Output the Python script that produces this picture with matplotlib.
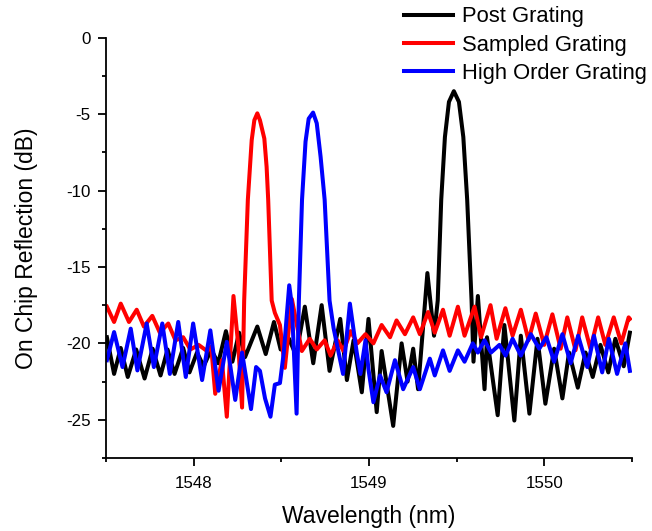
import matplotlib
matplotlib.use('Agg')
import matplotlib.pyplot as plt
from matplotlib.ticker import MultipleLocator

plt.rcParams['font.family'] = ['Liberation Sans', 'DejaVu Sans']
plt.rcParams['axes.unicode_minus'] = False

# Post Grating (black)
post_wl = [1547.505, 1547.546, 1547.584, 1547.624, 1547.672, 1547.720, 1547.766, 1547.811,
           1547.851, 1547.891, 1547.940, 1547.976, 1548.019, 1548.057, 1548.100, 1548.140,
           1548.184, 1548.221, 1548.259, 1548.293, 1548.363, 1548.411, 1548.458, 1548.496,
           1548.544, 1548.584, 1548.634, 1548.682, 1548.730, 1548.775, 1548.836, 1548.874,
           1548.912, 1548.959, 1548.997, 1549.044, 1549.072, 1549.138, 1549.186, 1549.220,
           1549.252, 1549.280, 1549.333, 1549.371, 1549.392, 1549.412, 1549.433, 1549.456,
           1549.484, 1549.513, 1549.538, 1549.560, 1549.585, 1549.596, 1549.621, 1549.659,
           1549.673, 1549.734, 1549.772, 1549.829, 1549.866, 1549.915, 1549.961, 1550.006,
           1550.056, 1550.103, 1550.141, 1550.191, 1550.235, 1550.276, 1550.320, 1550.365,
           1550.405, 1550.453, 1550.488]
post_db = [-19.6, -22.0, -20.3, -22.2, -20.4, -22.3, -20.35, -22.1,
           -20.4, -22.0, -20.3, -21.9, -20.6, -21.5, -20.4, -21.3,
           -19.2, -21.2, -19.3, -20.9, -18.9, -20.7, -18.6, -20.4,
           -19.7, -20.8, -17.6, -21.3, -17.5, -21.8, -18.4, -22.4,
           -19.8, -23.2, -18.4, -24.5, -20.5, -25.4, -20.0, -22.5,
           -20.35, -23.0, -15.4, -19.5, -17.2, -10.6, -6.5, -4.2,
           -3.5, -4.2, -6.5, -10.6, -17.2, -21.2, -16.9, -23.0,
           -19.6, -24.7, -18.8, -25.05, -19.5, -24.6, -19.7, -23.95,
           -20.35, -23.6, -20.6, -22.9, -20.6, -22.2, -20.1, -21.9,
           -19.7, -21.5, -19.3]

# Sampled Grating (red)
samp_wl = [1547.505, 1547.546, 1547.584, 1547.631, 1547.675, 1547.716, 1547.764, 1547.807,
           1547.855, 1547.896, 1547.940, 1547.981, 1548.028, 1548.076, 1548.100, 1548.123,
           1548.161, 1548.189, 1548.227, 1548.255, 1548.276, 1548.288, 1548.309, 1548.331,
           1548.346, 1548.363, 1548.378, 1548.403, 1548.416, 1548.425, 1548.435, 1548.445,
           1548.463, 1548.492, 1548.520, 1548.560, 1548.617, 1548.662, 1548.702, 1548.747,
           1548.781, 1548.821, 1548.855, 1548.895, 1548.934, 1548.980, 1549.025, 1549.072,
           1549.120, 1549.157, 1549.205, 1549.252, 1549.290, 1549.337, 1549.375, 1549.422,
           1549.460, 1549.507, 1549.545, 1549.602, 1549.639, 1549.693, 1549.728, 1549.778,
           1549.819, 1549.866, 1549.910, 1549.951, 1549.999, 1550.046, 1550.093, 1550.131,
           1550.178, 1550.216, 1550.263, 1550.307, 1550.348, 1550.396, 1550.439, 1550.481,
           1550.488]
samp_db = [-17.6, -18.6, -17.4, -18.6, -17.8, -18.9, -18.2, -19.3,
           -18.7, -19.8, -19.6, -20.4, -20.1, -20.5, -20.2, -23.3,
           -21.1, -24.8, -16.9, -20.2, -24.2, -17.2, -10.6, -6.7,
           -5.4, -4.95, -5.4, -6.6, -8.45, -10.6, -13.9, -17.2,
           -18.0, -18.8, -21.6, -17.1, -20.5, -19.7, -20.4, -19.8,
           -20.8, -19.8, -20.5, -19.2, -20.0, -19.4, -20.0, -18.8,
           -19.6, -18.5, -19.4, -18.3, -19.4, -17.95, -19.3, -17.8,
           -19.5, -17.6, -19.5, -17.6, -19.6, -17.5, -19.7, -17.7,
           -19.5, -17.8, -19.8, -18.05, -20.1, -18.1, -20.35, -18.3,
           -20.45, -18.3, -20.35, -18.3, -20.1, -18.3, -20.0, -18.3,
           -18.4]

# High Order Grating (blue)
high_wl = [1547.505, 1547.546, 1547.594, 1547.641, 1547.679, 1547.732, 1547.773, 1547.821,
           1547.864, 1547.912, 1547.955, 1547.997, 1548.048, 1548.095, 1548.142, 1548.189,
           1548.237, 1548.276, 1548.327, 1548.356, 1548.378, 1548.407, 1548.438, 1548.463,
           1548.492, 1548.514, 1548.545, 1548.560, 1548.587, 1548.600, 1548.618, 1548.638,
           1548.656, 1548.681, 1548.702, 1548.724, 1548.747, 1548.775, 1548.798, 1548.852,
           1548.891, 1548.930, 1548.951, 1548.980, 1548.997, 1549.025, 1549.063, 1549.100,
           1549.148, 1549.195, 1549.252, 1549.290, 1549.347, 1549.375, 1549.422, 1549.460,
           1549.507, 1549.545, 1549.592, 1549.621, 1549.659, 1549.696, 1549.744, 1549.779,
           1549.819, 1549.866, 1549.923, 1549.971, 1550.012, 1550.056, 1550.103, 1550.150,
           1550.193, 1550.245, 1550.283, 1550.330, 1550.368, 1550.415, 1550.462, 1550.488]
high_db = [-21.1, -19.26, -21.55, -19.04, -21.77, -18.7, -21.55, -18.7,
           -22.0, -18.6, -22.2, -18.7, -22.4, -19.15, -23.1, -19.9,
           -23.7, -20.6, -24.3, -21.55, -21.8, -23.6, -24.8, -22.7,
           -22.6, -20.6, -16.2, -17.5, -24.6, -17.2, -10.6, -6.8,
           -5.3, -4.9, -5.6, -7.8, -10.6, -17.2, -19.0, -22.0,
           -17.4, -20.6, -22.0, -19.8, -21.7, -23.85, -22.1, -23.2,
           -21.1, -23.0, -21.55, -23.0, -21.0, -22.1, -20.46, -21.8,
           -20.46, -21.2, -20.0, -20.6, -19.8, -20.6, -20.1, -20.8,
           -19.7, -20.8, -19.4, -20.35, -19.6, -21.2, -19.4, -21.3,
           -19.5, -21.55, -19.5, -21.9, -19.7, -22.0, -20.0, -21.8]

fig = plt.figure(figsize=(6.52, 5.31), dpi=100)
ax = fig.add_axes([0.1626, 0.1375, 0.8067, 0.7915])

lw = 2.9
ax.plot(post_wl, post_db, color='black', lw=lw, solid_joinstyle='round', label='Post Grating')
ax.plot(samp_wl, samp_db, color='#ff0000', lw=lw, solid_joinstyle='round', label='Sampled Grating')
ax.plot(high_wl, high_db, color='#0000ff', lw=lw, solid_joinstyle='round', label='High Order Grating')

ax.set_xlim(1547.5, 1550.5)
ax.set_ylim(-27.5, 0)
ax.xaxis.set_major_locator(MultipleLocator(1))
ax.xaxis.set_minor_locator(MultipleLocator(0.5))
ax.yaxis.set_major_locator(MultipleLocator(5))
ax.yaxis.set_minor_locator(MultipleLocator(2.5))

for s in ['top', 'right']:
    ax.spines[s].set_visible(False)
for s in ['left', 'bottom']:
    ax.spines[s].set_linewidth(1.3)

ax.tick_params(which='major', direction='out', length=6, width=1.3, labelsize=12.2)
ax.tick_params(which='minor', direction='out', length=3, width=1.3)
ax.tick_params(axis='x', which='major', pad=7)
ax.tick_params(axis='y', which='major', pad=5)

ax.set_xlabel('Wavelength (nm)', fontsize=16.5, labelpad=10)
ax.set_ylabel('On Chip Reflection (dB)', fontsize=16.5, labelpad=20)

fig.legend(loc='upper left', bbox_to_anchor=(0.6058, 1.0045), frameon=False,
           fontsize=15.8, handlelength=2.25, handletextpad=0.4, labelspacing=0.33,
           borderaxespad=0)

fig.savefig('out.png', dpi=100)
